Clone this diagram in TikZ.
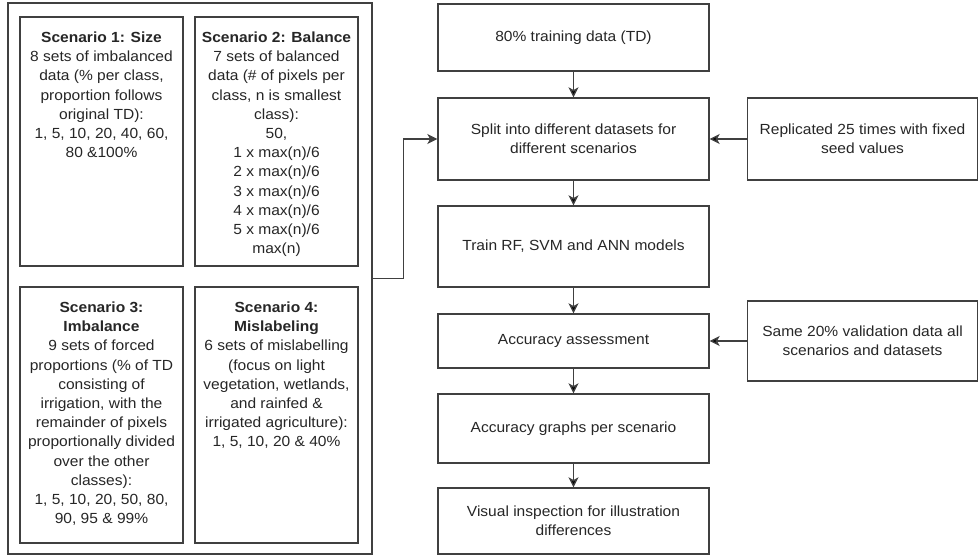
\documentclass[tikz,border=0pt]{standalone}
\usepackage{fontspec}
\setmainfont{Liberation Sans}[FakeStretch=1.06]
\usetikzlibrary{positioning,arrows.meta}

\begin{document}
\begin{tikzpicture}[x=0.75pt,y=-0.75pt,
	flowbox/.style={shape=rectangle,draw=black!75,line width=1pt,align=center,
		font=\fontsize{11}{14.4}\selectfont,text=black!85},
	scentext/.style={inner sep=0pt,align=center,
		font=\fontsize{11}{14.4}\selectfont,text=black!85},
	>={Stealth[length=7.5pt,width=7.5pt,inset=2pt]}]
	\useasboundingbox (0,0) rectangle (979,556);

	% scenarios
	\node[flowbox,minimum width=273pt,minimum height=413.25pt] (scen) at (190,278.5) {};
	\node[flowbox,minimum width=122.25pt,minimum height=186.75pt] (s1) at (101.5,141.5) {};
	\node[flowbox,minimum width=122.25pt,minimum height=186.75pt] (s2) at (276.5,141.5) {};
	\node[flowbox,minimum width=122.25pt,minimum height=192pt] (s3) at (101.5,415) {};
	\node[flowbox,minimum width=122.25pt,minimum height=192pt] (s4) at (276.5,415) {};

	\node[scentext,below=11.5pt of s1.north] (s1t) {\textbf{Scenario 1: Size}\\8 sets of imbalanced\\data (\% per class,\\proportion follows\\original TD):\\1, 5, 10, 20, 40, 60,\\80 \&100\%};
	\node[scentext,below=11.5pt of s2.north] (s2t) {\textbf{Scenario 2: Balance}\\7 sets of balanced\\data (\# of pixels per\\class, n is smallest\\class):\\50,\\1 x max(n)/6\\2 x max(n)/6\\3 x max(n)/6\\4 x max(n)/6\\5 x max(n)/6\\max(n)};
	\node[scentext,below=11.5pt of s3.north] (s3t) {\textbf{Scenario 3:}\\\textbf{Imbalance}\\9 sets of forced\\proportions (\% of TD\\consisting of\\irrigation, with the\\remainder of pixels\\proportionally divided\\over the other\\classes):\\1, 5, 10, 20, 50, 80,\\90, 95 \& 99\%};
	\node[scentext,below=11.5pt of s4.north] (s4t) {\textbf{Scenario 4:}\\\textbf{Mislabeling}\\6 sets of mislabelling\\(focus on light\\vegetation, wetlands,\\and rainfed \&\\irrigated agriculture):\\1, 5, 10, 20 \& 40\%};

	% main flow
	\node[flowbox,minimum width=203.25pt,minimum height=50.25pt] (td) at (573.5,37.5) {80\% training data (TD)};
	\node[flowbox,minimum width=203.25pt,minimum height=61.5pt] (split) at (573.5,139) {Split into different datasets for\\different scenarios};
	\node[flowbox,minimum width=203.25pt,minimum height=60.75pt] (train) at (573.5,246.5) {Train RF, SVM and ANN models};
	\node[flowbox,minimum width=203.25pt,minimum height=40.5pt] (acc) at (573.5,341) {Accuracy assessment};
	\node[flowbox,minimum width=203.25pt,minimum height=51.75pt] (graphs) at (573.5,428.5) {Accuracy graphs per scenario};
	\node[flowbox,minimum width=203.25pt,minimum height=49.5pt] (visual) at (573.5,521) {Visual inspection for illustration\\differences};

	% side inputs
	\node[flowbox,minimum width=172.5pt,minimum height=61.5pt] (rep) at (862.5,139) {Replicated 25 times with fixed\\seed values};
	\node[flowbox,minimum width=172.5pt,minimum height=60pt] (same) at (862.5,341) {Same 20\% validation data all\\scenarios and datasets};

	\path[->,draw=black!75,line width=1pt] (td) edge (split);
	\path[->,draw=black!75,line width=1pt] (split) edge (train);
	\path[->,draw=black!75,line width=1pt] (train) edge (acc);
	\path[->,draw=black!75,line width=1pt] (acc) edge (graphs);
	\path[->,draw=black!75,line width=1pt] (graphs) edge (visual);
	\path[->,draw=black!75,line width=1pt] (rep) edge (split);
	\path[->,draw=black!75,line width=1pt] (same) edge (acc);
	\draw[->,draw=black!75,line width=1pt] (scen.east) -- ++(31,0) |- (split.west);
\end{tikzpicture}
\end{document}
